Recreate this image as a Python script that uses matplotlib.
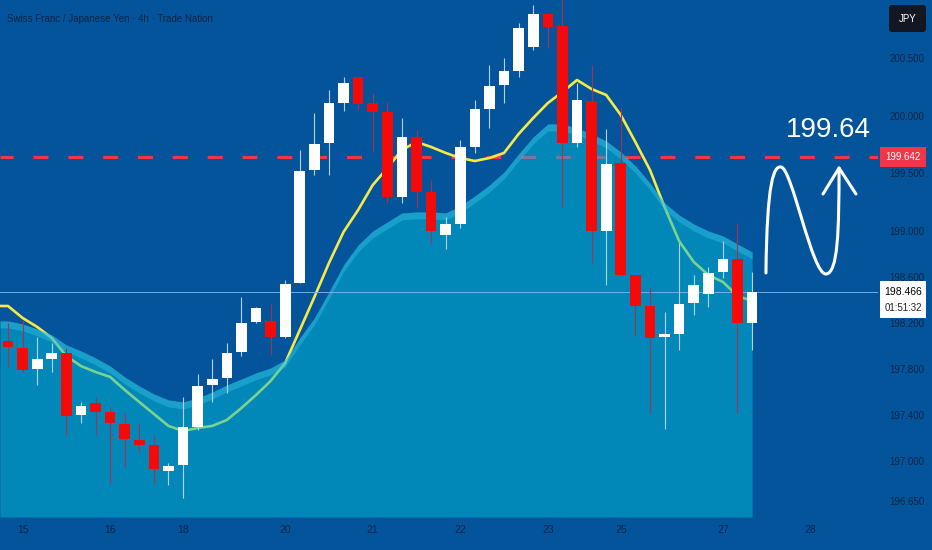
import numpy as np
import matplotlib.pyplot as plt
import matplotlib.transforms as mtransforms
from matplotlib.path import Path
from matplotlib.patches import PathPatch, Rectangle, FancyBboxPatch

# ---------------------------------------------------------
# data (CHF/JPY 4h candles)
# ---------------------------------------------------------
opens = [198.042, 197.981, 197.798, 197.885, 197.937, 197.398, 197.503, 197.424, 197.320, 197.181,
         197.137, 196.911, 196.964, 197.294, 197.659, 197.720, 197.946, 198.207, 198.216, 198.077,
         198.546, 199.529, 199.764, 200.111, 200.337, 200.111, 200.033, 199.294, 199.816, 199.337,
         198.964, 199.059, 199.729, 200.059, 200.268, 200.390, 200.598, 200.885, 200.781, 199.764,
         200.129, 198.998, 199.590, 198.616, 198.346, 198.077, 198.103, 198.372, 198.450, 198.642,
         198.755, 198.198]
highs = [198.198, 198.224, 198.077, 198.024, 197.981, 197.511, 197.555, 197.459, 197.416, 197.329,
         197.224, 196.981, 197.555, 197.755, 197.885, 198.024, 198.424, 198.337, 198.364, 198.572,
         199.703, 200.024, 200.224, 200.337, 200.337, 200.198, 200.120, 199.981, 199.877, 199.442,
         199.120, 199.790, 200.137, 200.442, 200.503, 200.807, 200.964, 200.885, 201.100, 200.285,
         200.442, 199.885, 200.077, 198.616, 198.503, 198.294, 198.894, 198.616, 198.685, 198.911,
         199.068, 198.642]
lows = [197.816, 197.772, 197.659, 197.772, 197.224, 197.329, 197.224, 196.807, 196.946, 197.077,
        196.807, 196.790, 196.677, 197.268, 197.511, 197.590, 197.911, 198.198, 197.920, 198.068,
        198.546, 199.485, 199.485, 200.042, 200.050, 199.685, 199.242, 199.242, 199.198, 198.894,
        198.842, 199.024, 199.677, 199.894, 200.111, 200.337, 200.572, 200.590, 199.207, 199.729,
        198.720, 198.529, 198.616, 198.085, 197.416, 197.277, 197.964, 198.268, 198.337, 198.590,
        197.416, 197.964]
closes = [197.990, 197.790, 197.885, 197.937, 197.390, 197.477, 197.424, 197.329, 197.190, 197.137,
          196.929, 196.955, 197.294, 197.650, 197.711, 197.937, 198.198, 198.329, 198.077, 198.537,
          199.520, 199.755, 200.111, 200.285, 200.103, 200.033, 199.294, 199.816, 199.337, 198.998,
          199.059, 199.729, 200.059, 200.259, 200.390, 200.764, 200.885, 200.772, 199.764, 200.137,
          198.998, 199.581, 198.616, 198.346, 198.068, 198.103, 198.364, 198.529, 198.633, 198.755,
          198.198, 198.466]

ema = [198.346, 198.242, 198.164, 198.068, 197.911, 197.824, 197.772, 197.729, 197.616, 197.511,
       197.407, 197.303, 197.259, 197.285, 197.303, 197.355, 197.459, 197.572, 197.694, 197.850,
       198.137, 198.424, 198.720, 198.990, 199.181, 199.398, 199.546, 199.703, 199.772, 199.729,
       199.677, 199.633, 199.607, 199.633, 199.677, 199.842, 199.981, 200.111, 200.207, 200.311,
       200.233, 200.181, 200.007, 199.772, 199.529, 199.207, 198.911, 198.729, 198.616, 198.555,
       198.433, 198.390]

cloud = [198.216, 198.190, 198.146, 198.094, 198.007, 197.955, 197.894, 197.824, 197.729, 197.650,
         197.581, 197.529, 197.511, 197.546, 197.598, 197.659, 197.711, 197.764, 197.807, 197.877,
         198.068, 198.242, 198.468, 198.703, 198.877, 198.998, 199.077, 199.155, 199.164, 199.164,
         199.155, 199.216, 199.303, 199.398, 199.511, 199.668, 199.816, 199.929, 199.929, 199.894,
         199.842, 199.781, 199.685, 199.564, 199.416, 199.242, 199.137, 199.059, 198.998, 198.955,
         198.885, 198.816]

date_pos = [1, 7, 12, 19, 25, 31, 37, 42, 49, 55]
date_labels = ["15", "16", "18", "20", "21", "22", "23", "25", "27", "28"]
price_ticks = [200.5, 200.0, 199.5, 199.0, 198.6, 198.2, 197.8, 197.4, 197.0, 196.65]

target = 199.642
last_price = 198.466
countdown = "01:51:32"

# ---------------------------------------------------------
# style
# ---------------------------------------------------------
BG = "#03549b"
NAVY = "#0d2545"
RED = "#f50a0a"
plt.rcParams['font.family'] = ['Liberation Sans', 'DejaVu Sans']

W, H = 932, 550
fig = plt.figure(figsize=(W / 100, H / 100), dpi=100)
fig.patch.set_facecolor(BG)
ax = fig.add_axes([0, 33 / H, 878 / W, 517 / H])
ax.set_facecolor(BG)
for s in ax.spines.values():
    s.set_visible(False)

x = np.arange(len(closes))
x_left, x_right = -0.548, 59.63
y_bot, y_top = 196.511, 201.007
ax.set_xlim(x_left, x_right)
ax.set_ylim(y_bot, y_top)

# target line (under the cloud)
ax.axhline(target, color="#f23645", lw=2.2, ls=(0.6, (4.9, 6.5)), zorder=1)

# ema line, cloud on top of it (semi transparent -> line turns green inside)
xe = np.r_[x_left, x]
ax.plot(xe, np.r_[ema[0], ema], color="#f7ea45", lw=1.9, zorder=2,
        solid_capstyle="round")
cl = np.array(cloud)
ax.fill_between(xe, np.r_[cl[0], cl], y_bot, color="#00bcd7", alpha=0.5,
                lw=0, zorder=3)
ax.fill_between(xe, np.r_[cl[0], cl] - 0.06, np.r_[cl[0], cl], color="#40c4e6",
                alpha=0.4, lw=0, zorder=3.2)

# last price line
ax.axhline(last_price, color="#6fb0e6", lw=0.7, zorder=4)

# candles
o, h, l, c = map(np.array, (opens, highs, lows, closes))
up = c >= o
body_lo = np.minimum(o, c)
body_h = np.maximum(np.abs(c - o), 0.02)
ax.vlines(x[up], l[up], h[up], color="#b4d2f0", lw=0.8, zorder=5)
ax.vlines(x[~up], l[~up], h[~up], color="#a83050", lw=0.8, zorder=5)
ax.bar(x[up], body_h[up], 0.73, body_lo[up], color="white", lw=0, zorder=6)
ax.bar(x[~up], body_h[~up], 0.73, body_lo[~up], color=RED, lw=0, zorder=6)

# hand drawn wave + arrow
verts = [(51.95, 198.633), (52.02, 199.442), (52.50, 199.564), (52.98, 199.555),
         (53.74, 199.546), (55.11, 198.616), (56.07, 198.624),
         (56.89, 198.633), (56.96, 199.007), (56.96, 199.546)]
codes = [Path.MOVETO] + [Path.CURVE4] * 9
ax.add_patch(PathPatch(Path(verts, codes), fill=False, ec="white", lw=2.2,
                       capstyle="round", zorder=7))
ax.plot([55.86, 56.96, 58.12], [199.320, 199.546, 199.320], color="white",
        lw=2.2, solid_capstyle="round", solid_joinstyle="round", zorder=7)
ax.text(56.2, 199.877, "199.64", color="white", fontsize=20, ha="center",
        va="center", zorder=7)

# axes ticks
ax.set_xticks(date_pos, date_labels)
ax.tick_params(axis="x", length=0, pad=6, labelsize=7.5, labelcolor=NAVY)
ax.yaxis.tick_right()
ax.set_yticks(price_ticks, [f"{v:.3f}" for v in price_ticks])
ax.tick_params(axis="y", length=0, pad=8.5, labelsize=7, labelcolor=NAVY)

# price labels on the axis
tr = mtransforms.blended_transform_factory(fig.transFigure, ax.transData)
fig.add_artist(Rectangle((880 / W, target - 0.083), 46 / W, 0.166, transform=tr,
                         color="#f23645", lw=0, zorder=5))
fig.add_artist(plt.Text(903 / W, target, f"{target:.3f}", transform=tr, color="white",
                        fontsize=7, ha="center", va="center", zorder=6))
fig.add_artist(Rectangle((880 / W, last_price - 0.224), 46 / W, 0.321, transform=tr,
                         color="white", lw=0, zorder=5))
fig.add_artist(plt.Text(903 / W, last_price, f"{last_price:.3f}", transform=tr,
                        color="black", fontsize=7.5, ha="center", va="center", zorder=6))
fig.add_artist(plt.Text(903 / W, last_price - 0.139, countdown, transform=tr,
                        color="#222222", fontsize=7, ha="center", va="center", zorder=6))

# currency box
fig.add_artist(FancyBboxPatch((889, H - 32), 37, 27, boxstyle="round,pad=0,rounding_size=3",
                              transform=mtransforms.IdentityTransform(),
                              fc="#131722", ec="none", zorder=5))
fig.text(907.5 / W, 1 - 18.5 / H, "JPY", color="white", fontsize=7,
         ha="center", va="center", zorder=6)

# title
fig.text(7 / W, 1 - 19 / H, "Swiss Franc / Japanese Yen \u00b7 4h \u00b7 Trade Nation",
         color=NAVY, fontsize=7, ha="left", va="center")

fig.savefig("out.png", dpi=100, facecolor=BG)
